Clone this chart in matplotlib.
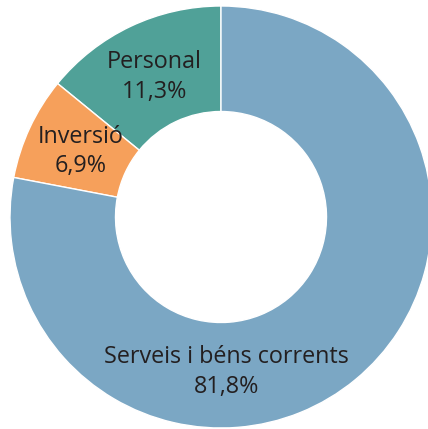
import matplotlib.pyplot as plt
import numpy as np

# labels and shares (slice sizes as drawn in the reference)
categories = ['Personal', 'Inversió', 'Serveis i béns corrents']
pct_labels = ['11,3%', '6,9%', '81,8%']
shares = [14.1, 7.9, 78.0]
colors = ['#50a198', '#f6a05b', '#7ba7c4']

plt.rcParams['font.family'] = ['Open Sans', 'DejaVu Sans']

fig = plt.figure(figsize=(4.28, 4.29), dpi=100)
# axes placed so the ring sits like in the original (slightly cut at right/bottom)
ax = fig.add_axes([10 / 428, 1 / 429, 422 / 428, 422 / 429])

wedges, _ = ax.pie(shares, colors=colors, startangle=90, counterclock=True,
                   radius=1.0,
                   wedgeprops=dict(width=0.5, edgecolor='white', linewidth=1))

# label positions: middle of the wedge for the small ones, bottom for the big one
for i, w in enumerate(wedges):
    ang = (w.theta1 + w.theta2) / 2
    if i == 2:
        ang = -88
    r = 0.735
    x = r * np.cos(np.deg2rad(ang))
    y = r * np.sin(np.deg2rad(ang))
    ax.text(x, y, categories[i] + '\n' + pct_labels[i], ha='center', va='center',
            fontsize=16.8, color='#231f20', linespacing=1.32)

ax.set_xlim(-1, 1)
ax.set_ylim(-1, 1)
ax.set_aspect('equal')
ax.axis('off')

plt.savefig('out.png', dpi=100)
